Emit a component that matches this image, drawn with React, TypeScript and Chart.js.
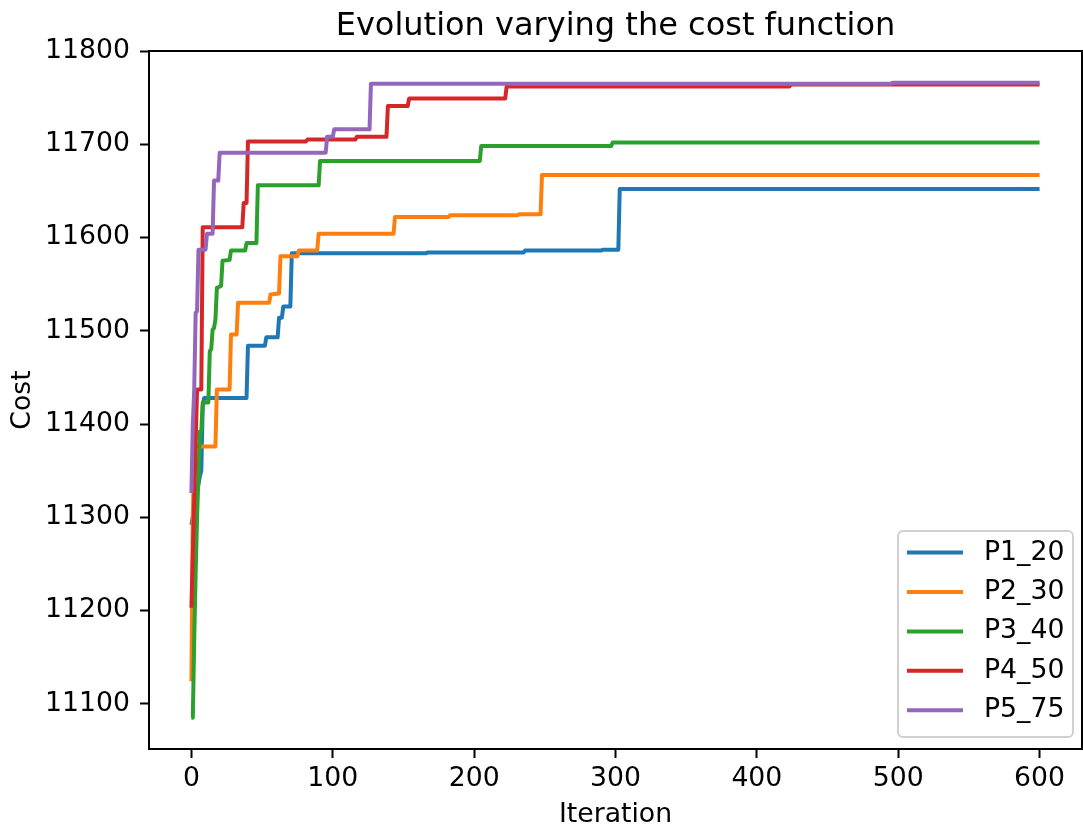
import React, { useEffect, useRef } from "react";
import { Chart, registerables } from "chart.js";

Chart.register(...registerables);

const TITLE = "Evolution varying the cost function";
const X_LABEL = "Iteration";
const Y_LABEL = "Cost";
const X_TICKS = [0, 100, 200, 300, 400, 500, 600];
const Y_TICKS = [11100, 11200, 11300, 11400, 11500, 11600, 11700, 11800];

const SERIES_NAMES = ["P1_20", "P2_30", "P3_40", "P4_50", "P5_75"];
const SERIES_COLORS = ["#1f77b4", "#ff7f0e", "#2ca02c", "#d62728", "#9467bd"];

const P1_ITER = [0, 6, 7, 8, 9, 39, 40, 52, 53, 61, 62, 64, 65, 70, 71, 166, 167, 235, 236, 290, 291, 302, 303, 600];
const P1_COST = [11292, 11344, 11350, 11419, 11428, 11428, 11484, 11484, 11493, 11493, 11514, 11514, 11526, 11526, 11583, 11583, 11584, 11584, 11586, 11586, 11587, 11587, 11652, 11652];

const P2_ITER = [0, 1, 2, 17, 18, 27, 28, 32, 33, 55, 56, 62, 63, 75, 76, 89, 90, 143, 144, 182, 183, 231, 232, 247, 248, 600];
const P2_COST = [11124, 11300, 11376, 11376, 11437, 11437, 11496, 11496, 11530, 11530, 11539, 11540, 11580, 11580, 11586, 11586, 11604, 11604, 11622, 11622, 11624, 11624, 11625, 11625, 11667, 11667];

const P3_ITER = [0, 1, 2, 3, 4, 5, 6, 7, 8, 12, 13, 14, 15, 16, 17, 18, 21, 22, 27, 28, 38, 39, 46, 47, 90, 91, 204, 205, 297, 298, 600];
const P3_COST = [11085, 11085, 11170, 11240, 11300, 11345, 11392, 11392, 11423, 11423, 11478, 11480, 11501, 11503, 11512, 11546, 11548, 11575, 11576, 11586, 11586, 11594, 11594, 11656, 11656, 11682, 11682, 11698, 11698, 11702, 11702];

const P4_ITER = [0, 4, 7, 8, 36, 37, 39, 40, 81, 82, 116, 117, 138, 139, 153, 154, 222, 223, 423, 424, 600];
const P4_COST = [11203, 11437, 11437, 11611, 11611, 11637, 11637, 11703, 11703, 11705, 11705, 11708, 11708, 11741, 11741, 11749, 11749, 11762, 11762, 11764, 11764];

const P5_ITER = [0, 1, 2, 3, 4, 5, 10, 11, 15, 16, 19, 20, 95, 96, 100, 101, 126, 127, 495, 496, 600];
const P5_COST = [11326, 11400, 11437, 11519, 11521, 11587, 11587, 11604, 11604, 11661, 11661, 11691, 11691, 11708, 11708, 11716, 11716, 11765, 11765, 11766, 11766];

const FONT = "'DejaVu Sans', sans-serif";

export default function App() {
  const ref = useRef<HTMLCanvasElement>(null);

  useEffect(() => {
    if (!ref.current) return;
    const iters = [P1_ITER, P2_ITER, P3_ITER, P4_ITER, P5_ITER];
    const costs = [P1_COST, P2_COST, P3_COST, P4_COST, P5_COST];

    const datasets = SERIES_NAMES.map((name, i) => ({
      label: name,
      data: iters[i].map((x, j) => ({ x, y: costs[i][j] })),
      borderColor: SERIES_COLORS[i],
      backgroundColor: SERIES_COLORS[i],
      borderWidth: 4,
      pointRadius: 0,
      pointHoverRadius: 0,
      tension: 0,
      fill: false,
      borderJoinStyle: "round" as const,
      borderCapStyle: "butt" as const,
      order: SERIES_NAMES.length - i,
    }));

    const framePlugin = {
      id: "frame",
      afterDatasetsDraw(chart: any) {
        const { ctx, chartArea: a } = chart;
        ctx.save();
        ctx.strokeStyle = "#000";
        ctx.lineWidth = 2;
        ctx.beginPath();
        ctx.moveTo(a.left, a.top);
        ctx.lineTo(a.right, a.top);
        ctx.lineTo(a.right, a.bottom);
        ctx.stroke();
        ctx.restore();
      },
    };

    const legendPlugin = {
      id: "mplLegend",
      afterDraw(chart: any) {
        const { ctx, chartArea: a } = chart;
        const w = 175;
        const h = 206;
        const x0 = a.right - 9 - w;
        const y0 = a.bottom - 12 - h;
        const r = 5;
        ctx.save();
        ctx.beginPath();
        ctx.moveTo(x0 + r, y0);
        ctx.lineTo(x0 + w - r, y0);
        ctx.arcTo(x0 + w, y0, x0 + w, y0 + r, r);
        ctx.lineTo(x0 + w, y0 + h - r);
        ctx.arcTo(x0 + w, y0 + h, x0 + w - r, y0 + h, r);
        ctx.lineTo(x0 + r, y0 + h);
        ctx.arcTo(x0, y0 + h, x0, y0 + h - r, r);
        ctx.lineTo(x0, y0 + r);
        ctx.arcTo(x0, y0, x0 + r, y0, r);
        ctx.closePath();
        ctx.fillStyle = "rgba(255,255,255,0.8)";
        ctx.fill();
        ctx.strokeStyle = "#d0d0d0";
        ctx.lineWidth = 2;
        ctx.stroke();
        ctx.font = `26.7px ${FONT}`;
        ctx.textBaseline = "middle";
        ctx.textAlign = "left";
        SERIES_NAMES.forEach((name, i) => {
          const y = y0 + 21.6 + i * 39.4;
          ctx.strokeStyle = SERIES_COLORS[i];
          ctx.lineWidth = 4;
          ctx.beginPath();
          ctx.moveTo(x0 + 9, y);
          ctx.lineTo(x0 + 65, y);
          ctx.stroke();
          ctx.fillStyle = "#000";
          ctx.fillText(name, x0 + 86, y);
        });
        ctx.restore();
      },
    };

    const chart = new Chart(ref.current, {
      type: "line",
      data: { datasets: datasets as any },
      plugins: [framePlugin, legendPlugin],
      options: {
        animation: false,
        responsive: false,
        devicePixelRatio: 1,
        layout: { padding: { left: 0, right: 1, top: 0, bottom: 0 } },
        plugins: {
          legend: { display: false },
          tooltip: { enabled: false },
          title: {
            display: true,
            text: TITLE,
            color: "#000",
            fullSize: false,
            font: { family: FONT, size: 32, weight: "normal", lineHeight: 1 },
            padding: { top: 11, bottom: 8 },
          },
        },
        scales: {
          x: {
            type: "linear",
            min: -30,
            max: 630,
            afterFit: (s: any) => {
              s.height = 78;
            },
            afterBuildTicks: (s: any) => {
              s.ticks = X_TICKS.map((v) => ({ value: v }));
            },
            ticks: {
              color: "#000",
              autoSkip: false,
              maxRotation: 0,
              padding: 5,
              font: { family: FONT, size: 26.7 },
              callback: (v: any) => String(v),
            },
            grid: {
              drawOnChartArea: false,
              drawTicks: true,
              tickLength: 9,
              tickColor: "#000",
              tickWidth: 2,
            },
            border: { display: true, color: "#000", width: 2 },
            title: {
              display: true,
              text: X_LABEL,
              color: "#000",
              font: { family: FONT, size: 26.7, lineHeight: 0.9 },
              padding: { top: 0, bottom: 0 },
            },
          },
          y: {
            type: "linear",
            min: 11051.5,
            max: 11800,
            afterFit: (s: any) => {
              s.width = 149;
            },
            afterBuildTicks: (s: any) => {
              s.ticks = Y_TICKS.map((v) => ({ value: v }));
            },
            ticks: {
              color: "#000",
              autoSkip: false,
              padding: 10,
              font: { family: FONT, size: 26.7 },
              callback: (v: any) => String(v),
            },
            grid: {
              drawOnChartArea: false,
              drawTicks: true,
              tickLength: 9,
              tickColor: "#000",
              tickWidth: 2,
            },
            border: { display: true, color: "#000", width: 2 },
            title: {
              display: true,
              text: Y_LABEL,
              color: "#000",
              font: { family: FONT, size: 26.7, lineHeight: 1 },
              padding: { top: 9.5, bottom: 0 },
            },
          },
        },
      },
    });
    return () => chart.destroy();
  }, []);

  return (
    <div style={{ position: "absolute", left: 0, top: 0, width: 1083, height: 827, background: "#fff" }}>
      <canvas ref={ref} width={1083} height={827} style={{ display: "block" }} />
    </div>
  );
}
